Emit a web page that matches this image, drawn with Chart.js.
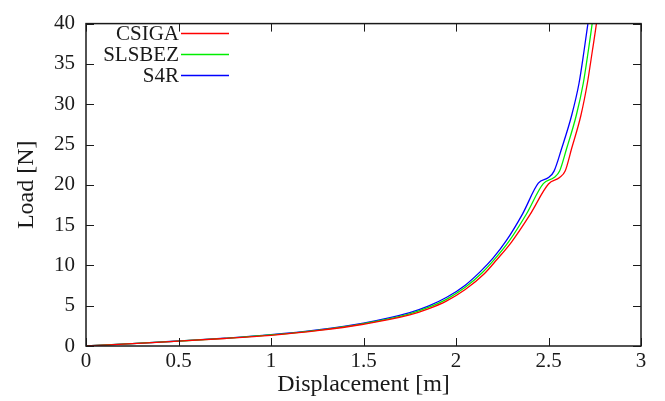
<!DOCTYPE html>
<html>
<head>
<meta charset="utf-8">
<script src="https://cdn.jsdelivr.net/npm/chart.js@4.4.1/dist/chart.umd.min.js"></script>
<style>
  html, body { margin: 0; padding: 0; background: #fff; }
  #wrap { width: 665px; height: 401px; }
</style>
</head>
<body>
<div id="wrap"><canvas id="loadChart" width="665" height="401"></canvas></div>
<script>
// series: displacement / load pairs
const seriesNames = ['CSIGA', 'SLSBEZ', 'S4R'];
const seriesColors = ['#ff0000', '#00ee00', '#0000ff'];

const csigaX = [0, 0.25, 0.5, 0.75, 1.0, 1.25, 1.5, 1.75, 1.85, 1.95, 2.05, 2.15, 2.22, 2.3, 2.4, 2.5, 2.56, 2.59, 2.625, 2.675, 2.71, 2.737, 2.759, 2.775];
const csigaY = [0, 0.3, 0.6, 0.93, 1.33, 1.9, 2.7, 3.85, 4.6, 5.6, 7.0, 8.9, 10.7, 12.9, 16.3, 20.1, 20.9, 21.7, 24.5, 28.6, 32.6, 36.6, 40, 43];

const slsbezX = [0, 0.25, 0.5, 0.75, 1.0, 1.25, 1.5, 1.75, 1.85, 1.95, 2.05, 2.14, 2.21, 2.285, 2.38, 2.472, 2.53, 2.56, 2.598, 2.65, 2.688, 2.715, 2.736, 2.752];
const slsbezY = [0, 0.3, 0.61, 0.95, 1.37, 1.95, 2.78, 4.0, 4.78, 5.82, 7.28, 9.05, 10.8, 12.95, 16.35, 20.15, 20.9, 21.7, 24.5, 28.6, 32.6, 36.6, 40, 43];

const s4rX = [0, 0.25, 0.5, 0.75, 1.0, 1.25, 1.5, 1.75, 1.85, 1.95, 2.05, 2.13, 2.2, 2.27, 2.36, 2.445, 2.5, 2.53, 2.571, 2.625, 2.665, 2.692, 2.713, 2.73];
const s4rY = [0, 0.3, 0.62, 0.97, 1.4, 2.0, 2.85, 4.15, 4.95, 6.05, 7.55, 9.2, 10.9, 13.0, 16.4, 20.2, 20.9, 21.7, 24.5, 28.6, 32.6, 36.6, 40, 43];

// tick labels
const xTicks = [0, 0.5, 1, 1.5, 2, 2.5, 3];
const yTicks = [0, 5, 10, 15, 20, 25, 30, 35, 40];

const serif = "'Liberation Serif', 'DejaVu Serif', serif";
const inkColor = '#1a1a1a';

function toPoints(xs, ys) {
    return xs.map(function(x, i) { return { x: x, y: ys[i] }; });
}

// draws the box, the inward ticks and the legend (gnuplot look)
const framePlugin = {
    id: 'frame',
    afterDatasetsDraw: function(chart) {
        const ctx = chart.ctx;
        const area = chart.chartArea;
        const xs = chart.scales.x;
        const ys = chart.scales.y;
        const tick = 8;
        ctx.save();
        ctx.strokeStyle = inkColor;
        ctx.lineWidth = 1;
        ctx.beginPath();
        xTicks.forEach(function(v) {
            const px = Math.round(xs.getPixelForValue(v)) + 0.5;
            ctx.moveTo(px, area.bottom); ctx.lineTo(px, area.bottom - tick);
            ctx.moveTo(px, area.top); ctx.lineTo(px, area.top + tick);
        });
        yTicks.forEach(function(v) {
            const py = Math.round(ys.getPixelForValue(v)) + 0.5;
            ctx.moveTo(area.left, py); ctx.lineTo(area.left + tick, py);
            ctx.moveTo(area.right, py); ctx.lineTo(area.right - tick, py);
        });
        ctx.stroke();
        ctx.lineWidth = 1.5;
        ctx.strokeRect(area.left, area.top, area.right - area.left, area.bottom - area.top);

        // legend: right aligned text, line sample after it
        ctx.font = '21px ' + serif;
        ctx.textAlign = 'right';
        ctx.textBaseline = 'middle';
        chart.data.datasets.forEach(function(ds, i) {
            const rowY = 33 + i * 21;
            ctx.fillStyle = inkColor;
            ctx.fillText(ds.label, 179, rowY + 1);
            ctx.strokeStyle = ds.borderColor;
            ctx.lineWidth = 1.3;
            ctx.beginPath();
            ctx.moveTo(181, rowY + 0.5);
            ctx.lineTo(229, rowY + 0.5);
            ctx.stroke();
        });
        ctx.restore();
    }
};

const seriesX = [csigaX, slsbezX, s4rX];
const seriesY = [csigaY, slsbezY, s4rY];

new Chart(document.getElementById('loadChart').getContext('2d'), {
    type: 'line',
    data: {
        datasets: seriesNames.map(function(name, i) {
            return {
                label: name,
                data: toPoints(seriesX[i], seriesY[i]),
                borderColor: seriesColors[i],
                backgroundColor: 'transparent',
                borderWidth: 1.3,
                pointRadius: 0,
                cubicInterpolationMode: 'monotone',
                fill: false
            };
        })
    },
    options: {
        responsive: false,
        animation: false,
        layout: {
            padding: { top: 16, right: 24, left: 0, bottom: 0 }
        },
        scales: {
            x: {
                type: 'linear',
                min: 0,
                max: 3,
                afterBuildTicks: function(scale) {
                    scale.ticks = xTicks.map(function(v) { return { value: v }; });
                },
                afterFit: function(scale) { scale.height = 55; },
                ticks: {
                    font: { family: serif, size: 21 },
                    color: inkColor,
                    padding: 3,
                    maxRotation: 0,
                    callback: function(v) { return String(v); }
                },
                grid: { display: false, drawTicks: false },
                border: { display: false },
                title: {
                    display: true,
                    text: 'Displacement [m]',
                    font: { family: serif, size: 24 },
                    color: inkColor,
                    padding: { top: 0, bottom: 2 }
                }
            },
            y: {
                min: 0,
                max: 40,
                afterBuildTicks: function(scale) {
                    scale.ticks = yTicks.map(function(v) { return { value: v }; });
                },
                afterFit: function(scale) { scale.width = 86; },
                ticks: {
                    font: { family: serif, size: 21 },
                    color: inkColor,
                    padding: 11,
                    callback: function(v) { return String(v); }
                },
                grid: { display: false, drawTicks: false },
                border: { display: false },
                title: {
                    display: true,
                    text: 'Load [N]',
                    font: { family: serif, size: 24 },
                    color: inkColor,
                    padding: { top: 12, bottom: 0 }
                }
            }
        },
        plugins: {
            legend: { display: false },
            tooltip: { enabled: false }
        }
    },
    plugins: [framePlugin]
});
</script>
</body>
</html>
